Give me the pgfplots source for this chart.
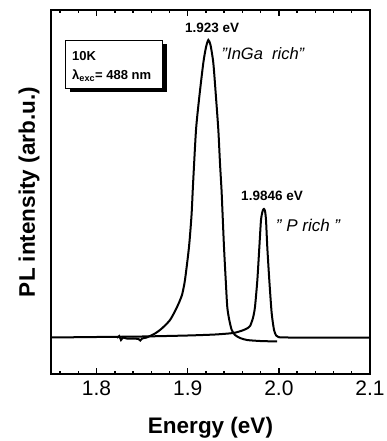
\documentclass[border=0pt]{standalone}
\usepackage{pgfplots}
\pgfplotsset{compat=1.18}
\usepackage{fontspec}
\setmainfont{Liberation Sans}
\begin{document}
\begin{tikzpicture}
\begin{axis}[
  at={(0,0)}, anchor=south west,
  scale only axis, width=319pt, height=364pt,
  xmin=1.75, xmax=2.1, ymin=0, ymax=364,
  xtick={1.8,1.9,2.0,2.1},
  xticklabels={1.8,1.9,2.0,2.1},
  minor xtick={1.76,1.78,1.82,1.84,1.86,1.88,1.92,1.94,1.96,1.98,2.02,2.04,2.06,2.08},
  ytick=\empty,
  tick align=inside,
  major tick length=6pt, minor tick length=3.5pt,
  tick style={line width=1.4pt, black},
  axis line style={line width=2.3pt},
  /pgf/number format/assume math mode=true,
  xticklabel style={font=\fontsize{21}{24}\selectfont, inner sep=0pt, yshift=-7pt},
  xlabel={\textbf{Energy (eV)}},
  ylabel={\textbf{PL intensity (arb.u.)}},
  x label style={at={(axis description cs:0.5,-0.118)}, anchor=north, inner sep=0pt, font=\fontsize{22.5}{26}\selectfont},
  y label style={at={(axis description cs:-0.0502,0.5)}, anchor=base, rotate=0, inner sep=0pt, font=\fontsize{22.5}{26}\selectfont},
  clip=false,
]
% InGa rich
\addplot[black, line width=2pt, smooth, tension=0.4] coordinates {
(1.8224,36) (1.8250,38) (1.8268,34) (1.8290,36.5) (1.8330,35.5) (1.8400,35.5)
(1.8460,35) (1.8480,33.5) (1.8500,35.5) (1.8550,36.5) (1.8586,38) (1.8641,40.5)
(1.8696,44) (1.8751,48.5) (1.8806,54) (1.8850,61) (1.8893,69) (1.8937,79)
(1.8970,94) (1.9014,127) (1.9042,159) (1.9058,189) (1.9091,244) (1.9127,277)
(1.9171,311) (1.9201,327) (1.9226,334) (1.9250,329) (1.9281,311) (1.9310,277)
(1.9336,244) (1.9354,211) (1.9371,184) (1.9382,161) (1.9398,127) (1.9417,94)
(1.9434,67) (1.9456,54) (1.9483,44) (1.9519,39) (1.9574,36) (1.9650,34)
(1.9793,33) (1.9980,32.5)
};
% P rich
\addplot[black, line width=2pt, smooth, tension=0.4] coordinates {
(1.7500,36.5) (1.8000,37) (1.8500,37.5) (1.9000,38.5) (1.9300,39.5) (1.9500,41)
(1.9600,43.5) (1.9650,45.5) (1.9684,48) (1.9716,56) (1.9738,67) (1.9764,94)
(1.9786,127) (1.9804,154) (1.9822,163) (1.9836,165) (1.9848,163) (1.9859,154)
(1.9873,127) (1.9895,94) (1.9921,61) (1.9947,44) (1.9970,38.5) (1.9994,37)
(2.0100,36.5) (2.1000,36.5)
};
\node[font=\fontsize{13.5}{16}\selectfont\bfseries] at (axis cs:1.9267,346) {1.923 eV};
\node[font=\fontsize{16.5}{19}\selectfont\itshape] at (axis cs:1.9826,320.5) {"InGa\ \ rich"};
\node[font=\fontsize{13.5}{16}\selectfont\bfseries] at (axis cs:1.9925,178) {1.9846 eV};
\node[font=\fontsize{17}{20}\selectfont\itshape] at (axis cs:2.032,149) {" P rich "};
\coordinate (boxtl) at (axis cs:1.7654,334);
\end{axis}
% box with shadow
\fill[black] ([shift={(4.5pt,-4.5pt)}]boxtl) rectangle ++(97pt,-48pt);
\filldraw[fill=white, draw=black, line width=0.8pt] (boxtl) rectangle ++(97pt,-48pt);
\node[anchor=north west, inner sep=0pt, align=left,
      font=\fontsize{13}{19}\selectfont\bfseries] at ([shift={(7pt,-11pt)}]boxtl) {10K\\λ\textsubscript{exc}= 488 nm};
\pgfresetboundingbox
\path[use as bounding box] (-51pt,-67pt) rectangle (335pt,374pt);
\end{tikzpicture}
\end{document}
